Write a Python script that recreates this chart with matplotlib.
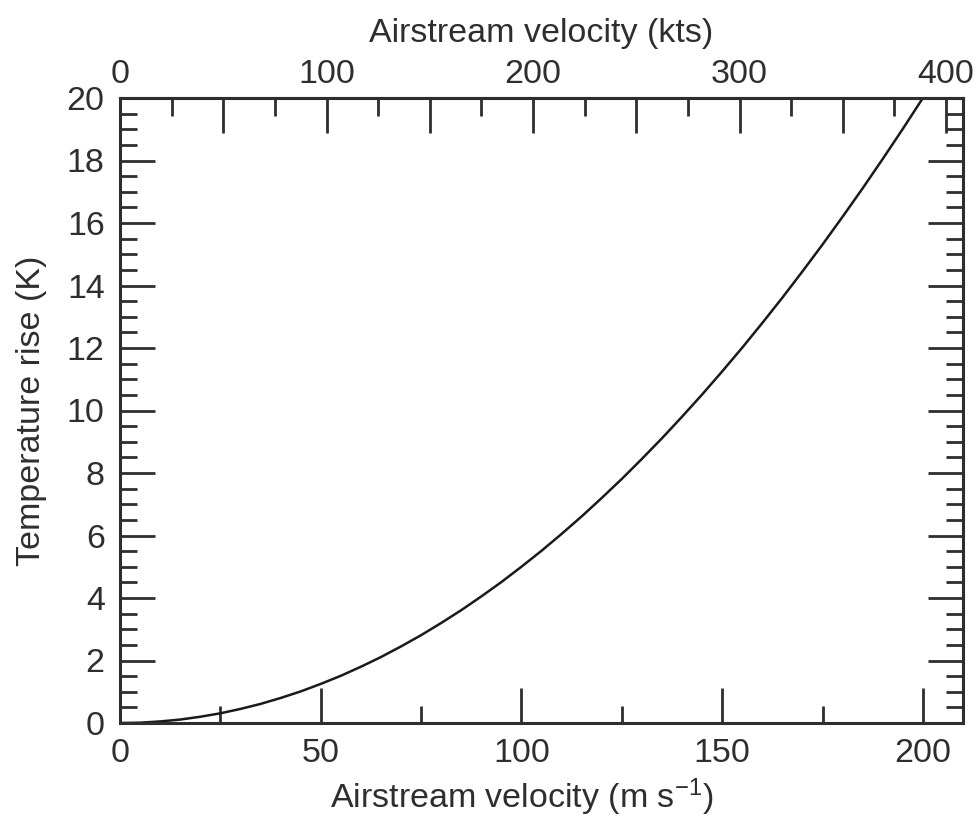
import matplotlib.pyplot as plt
from matplotlib.ticker import MultipleLocator, FuncFormatter

# airstream velocity (m/s) and temperature rise (K)
velocity = [0, 5, 10, 15, 20, 25, 30, 35, 40, 45, 50, 55, 60, 65, 70, 75, 80,
            85, 90, 95, 100, 105, 110, 115, 120, 125, 130, 135, 140, 145, 150,
            155, 160, 165, 170, 175, 180, 185, 190, 195, 200]
temp_rise = [0, 0.01, 0.05, 0.11, 0.2, 0.31, 0.45, 0.61, 0.8, 1.01, 1.25,
             1.51, 1.8, 2.11, 2.45, 2.81, 3.2, 3.61, 4.05, 4.51, 5.0, 5.51,
             6.05, 6.61, 7.2, 7.81, 8.45, 9.11, 9.8, 10.51, 11.25, 12.01,
             12.8, 13.61, 14.45, 15.31, 16.2, 17.11, 18.05, 19.01, 20.0]

MS_PER_KT = 0.514444

plt.rcParams['font.family'] = ['Liberation Sans', 'DejaVu Sans']
plt.rcParams['font.size'] = 24.5
plt.rcParams['mathtext.fontset'] = 'custom'
plt.rcParams['mathtext.rm'] = 'Liberation Sans'
plt.rcParams['mathtext.default'] = 'regular'

ink = '#2e2e2e'

fig = plt.figure(figsize=(9.77, 8.17), dpi=100)
ax = fig.add_axes([120 / 977, 1 - 723 / 817, 843 / 977, 625 / 817])

ax.plot(velocity, temp_rise, color='#1a1a1a', linewidth=1.8)

ax.set_xlim(0, 210)
ax.set_ylim(0, 20)
ax.xaxis.set_major_locator(MultipleLocator(50))
ax.xaxis.set_minor_locator(MultipleLocator(25))
ax.yaxis.set_major_locator(MultipleLocator(2))
ax.yaxis.set_minor_locator(MultipleLocator(0.5))

ax.tick_params(which='both', direction='in', top=False, right=True,
               color=ink, width=2, labelcolor=ink, pad=11)
ax.tick_params(which='major', length=25)
ax.tick_params(which='minor', length=12)
for sp in ax.spines.values():
    sp.set_linewidth(2.2)
    sp.set_color(ink)

ax.set_xlabel('Airstream velocity (m s$^{-1}$)', color=ink)
ax.xaxis.set_label_coords(0.476, -0.085)
ax.set_ylabel('Temperature rise (K)', color=ink, labelpad=14)

top = ax.secondary_xaxis('top', functions=(lambda v: v / MS_PER_KT,
                                           lambda k: k * MS_PER_KT))
top.xaxis.set_major_locator(MultipleLocator(50))
top.xaxis.set_minor_locator(MultipleLocator(25))
top.xaxis.set_major_formatter(
    FuncFormatter(lambda k, pos: '%d' % round(k) if round(k) % 100 == 0 else ''))
top.tick_params(which='both', direction='in', color=ink, width=2,
                labelcolor=ink, pad=6)
top.tick_params(which='major', length=25)
top.tick_params(which='minor', length=13)
top.spines['top'].set_linewidth(2.2)
top.spines['top'].set_color(ink)
top.set_xlabel('Airstream velocity (kts)', color=ink, labelpad=12)

fig.savefig('out.png', dpi=100)
